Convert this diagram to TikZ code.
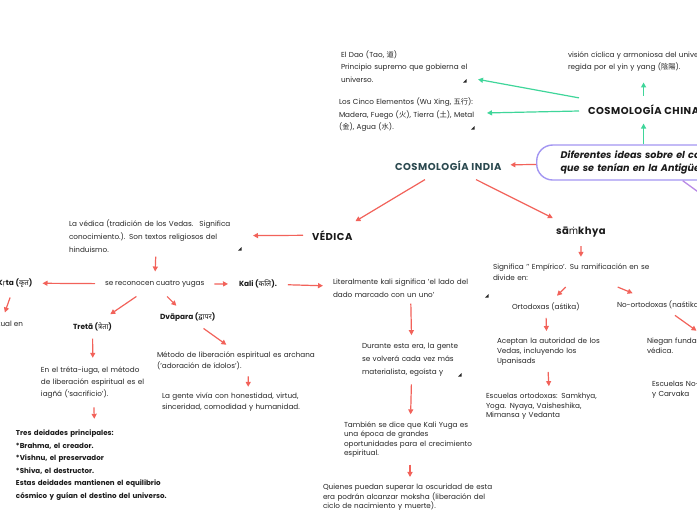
\documentclass[tikz,border=0pt]{standalone}
\usepackage{fontspec}
\setmainfont{Poppins}
\newfontfamily\deva[Script=Devanagari]{Noto Sans}
\newfontfamily\nsans{Noto Sans}
\newfontfamily\cjk{Noto Sans CJK SC}
\usetikzlibrary{arrows.meta}
\definecolor{redc}{HTML}{F2625A}
\definecolor{greenc}{HTML}{3FD69A}
\definecolor{rootc}{HTML}{A396F2}
\definecolor{purpc}{HTML}{B98AE6}
\definecolor{txtc}{HTML}{262626}
\definecolor{indiac}{HTML}{2C4A50}
\definecolor{headc}{HTML}{1A1A1A}
\newcommand\mb[1]{\mbox{#1}}
\tikzset{
  txt/.style={anchor=base west, align=left, inner sep=2pt, outer xsep=7pt, outer ysep=6pt, text=txtc, font=\fontsize{7.25}{#1}\selectfont},
  txt/.default=12,
  hd/.style={anchor=base west, inner sep=2pt, outer sep=7pt, text=#1, font=\fontsize{10}{11}\selectfont\bfseries\addfontfeatures{LetterSpace=5}},
  sb/.style={anchor=base west, inner sep=2pt, outer sep=7pt, text=headc, font=\fontsize{7.4}{9}\selectfont\bfseries},
  ra/.style={draw=redc, line width=1.2pt, -{Triangle[length=5pt,width=5pt]}},
  ga/.style={draw=greenc, line width=1.2pt, -{Triangle[length=5pt,width=5pt]}},
  pa/.style={draw=purpc, line width=1.3pt},
  tri/.style={fill=black!85}
}
\newcommand\tri[2]{\fill[tri] (#1+1.5,#2+1.5) -- (#1+1.5,#2-2) -- (#1-2,#2+1.5) -- cycle;}
\begin{document}
\begin{tikzpicture}[x=1pt,y=-1pt]
\path[use as bounding box, fill=white] (0,0) rectangle (697,520);
\clip (0,0) rectangle (697,520);

% root
\node[draw=rootc, line width=1.4pt, rounded corners=16pt, fill=white, anchor=west,
  minimum height=35pt, inner xsep=24pt, inner ysep=2pt, text width=240pt, align=left,
  font=\fontsize{9.6}{12.3}\selectfont\bfseries\itshape, text=headc] (root) at (536,162.5)
  {\mb{Diferentes ideas sobre el cosmos}\\\mb{que se tenían en la Antigüedad}};
\coordinate (pchild) at (712,202);

% headings
\node[hd=headc] (china) at (579,114.5) {COSMOLOGÍA CHINA};
\node[hd=indiac] (india) at (386,170.5) {COSMOLOGÍA INDIA};
\node[hd=headc] (vedica) at (303,240) {VÉDICA};
\node[hd=headc] (samkhya) at (547,234.5) {sā{\nsans ṁ}khya};

% china side
\node[txt=12.5, text width=129pt, outer xsep=6pt] (dao) at (333,57) {\mb{El Dao (Tao, {\cjk 道})}\\\mb{Principio supremo que gobierna el}\\\mb{universo.}};
\node[txt=12.5, text width=136pt, outer xsep=10pt] (cinco) at (327,104.5) {\mb{Los Cinco Elementos (Wu Xing, {\cjk 五行}):}\\\mb{Madera, Fuego ({\cjk 火}), Tierra ({\cjk 土}), Metal}\\\mb{({\cjk 金}), Agua ({\cjk 水}).}};
\node[txt=12, text width=160pt, outer ysep=9pt] (vision) at (559,57.5) {\mb{visión cíclica y armoniosa del universo,}\\\mb{regida por el yin y yang ({\cjk 陰陽}).}};

% vedica side
\node[txt=13, text width=175pt, outer ysep=2pt] (vedtxt) at (60,226.5) {\mb{La védica (tradición de los Vedas.~ Significa}\\\mb{conocimiento.). Son textos religiosos del}\\\mb{hinduismo.}};
\node[txt, outer xsep=8pt, outer ysep=7pt] (yugas) at (95,285.5) {se reconocen cuatro yugas};
\node[sb, anchor=base east, outer sep=8pt] (krta) at (42.5,285.5) {K{\nsans ṛ}ta ({\deva कृत})};
\node[txt, anchor=base east] (kritxt) at (32,326) {espiritual en};
\node[sb, outer sep=9pt] (kali) at (228,286.5) {Kali ({\deva कलि}).};
\node[txt=13, text width=155pt, outer xsep=8pt, outer ysep=4pt] (lit) at (323,284.5) {\mb{Literalmente kali significa 'el lado del}\\\mb{dado marcado con un uno'}};
\node[sb, outer sep=6pt] (treta) at (65,329) {Tretā ({\deva त्रेता})};
\node[sb, outer sep=5pt] (dvapara) at (153,319.5) {Dvāpara ({\deva द्वापर})};
\node[txt=12, text width=104pt, outer ysep=7pt] (treetxt) at (32,372.5) {\mb{En el tréta-iuga, el método}\\\mb{de liberación espiritual es el}\\\mb{iagñá ('sacrificio').}};
\node[txt=12.5, text width=160pt, outer ysep=9pt, font=\fontsize{7.1}{12.5}\selectfont\bfseries, text=headc] (tres) at (7,435.5) {\mb{Tres deidades principales:}\\\mb{*Brahma, el creador.}\\\mb{*Vishnu, el preservador}\\\mb{*Shiva, el destructor.}\\\mb{Estas deidades mantienen el equilibrio}\\\mb{cósmico y guían el destino del universo.}};
\node[txt=10.5, text width=183pt, outer ysep=5pt] (metodo) at (148,357.5) {\mb{Método de liberación espiritual es archana}\\\mb{('adoración de ídolos').}};
\node[txt=10.5, text width=172pt, outer ysep=4pt] (gente) at (153,398.5) {\mb{La gente vivía con honestidad, virtud,}\\\mb{sinceridad, comodidad y humanidad.}};
\node[txt=13, text width=100pt, outer ysep=6pt] (durante) at (353,348.5) {\mb{Durante esta era, la gente}\\\mb{se volverá cada vez más}\\\mb{materialista, egoísta y}};
\node[txt=9.6, text width=132pt, outer ysep=5pt] (tambien) at (335,427) {\mb{También se dice que Kali Yuga es}\\\mb{una época de grandes}\\\mb{oportunidades para el crecimiento}\\\mb{espiritual.}};
\node[txt=9.6, text width=174pt, outer ysep=5pt] (quienes) at (314,489.5) {\mb{Quienes puedan superar la oscuridad de esta}\\\mb{era podrán alcanzar moksha (liberación del}\\\mb{ciclo de nacimiento y muerte).}};

% samkhya side
\node[txt=10.5, text width=176pt, outer ysep=5pt] (signif) at (484,269.5) {\mb{Significa '{}' Empírico'. Su ramificación en se}\\\mb{divide en:}};
\node[txt, outer ysep=5pt] (orto) at (503,309.5) {Ortodoxas (aśtika)};
\node[txt, outer ysep=5pt] (noorto) at (608,307) {No-ortodoxas (naśtika)};
\node[txt=9.8, text width=100pt, outer ysep=5pt] (acept) at (488,343.5) {\mb{Aceptan la autoridad de los}\\\mb{Vedas, incluyendo los}\\\mb{Upanisads}};
\node[txt=9.6, text width=128pt, outer ysep=5pt] (escorto) at (477,398.5) {\mb{Escuelas ortodoxas: Samkhya,}\\\mb{Yoga. Nyaya, Vaisheshika,}\\\mb{Mimansa y Vedanta}};
\node[txt=9.5, text width=140pt, outer ysep=5pt] (niegan) at (638,343.5) {\mb{Niegan fundamentos de la tradición}\\\mb{védica.}};
\node[txt=9.5, text width=160pt, outer ysep=5pt] (escno) at (643,386.5) {\mb{Escuelas No-ortodoxas: Budismo, Jainismo}\\\mb{y Carvaka}};

% small corner marks
\tri{465}{81}
\tri{473}{128}
\tri{240}{249}
\tri{487}{296}
\tri{460}{375}

% connectors
\draw[pa] ([xshift=2pt]root.south) -- (pchild);
\draw[ga] (root.north -| china) -- (china);
\draw[ga] (china) -- (china |- vision.south);
\draw[ga] (china) -- (dao);
\draw[ga] (china) -- (cinco);
\draw[ra] (root) -- (india);
\draw[ra] (india) -- (vedica);
\draw[ra] (india) -- (samkhya);
\draw[ra] (vedica) -- (vedtxt);
\draw[ra] (vedtxt) -- (yugas);
\draw[ra] (yugas) -- (krta);
\draw[ra] (yugas) -- (kali);
\draw[ra] (kali) -- (lit);
\draw[ra] (yugas) -- (treta);
\draw[ra] (yugas) -- (dvapara);
\draw[ra] (krta) -- (kritxt);
\draw[ra] (treta) -- (treetxt);
\draw[ra] (treetxt) -- (tres);
\draw[ra] (dvapara) -- (metodo);
\draw[ra] (metodo) -- (gente);
\draw[ra] (lit) -- (durante);
\draw[ra] (durante) -- (tambien);
\draw[ra] (tambien) -- (quienes);
\draw[ra] (samkhya) -- (signif);
\draw[ra] (signif) -- (orto);
\draw[ra] (signif) -- (noorto);
\draw[ra] (orto) -- (acept);
\draw[ra] (acept) -- (escorto);
\draw[ra] (noorto) -- (niegan);
\draw[ra] (niegan) -- (escno);
\end{tikzpicture}
\end{document}
